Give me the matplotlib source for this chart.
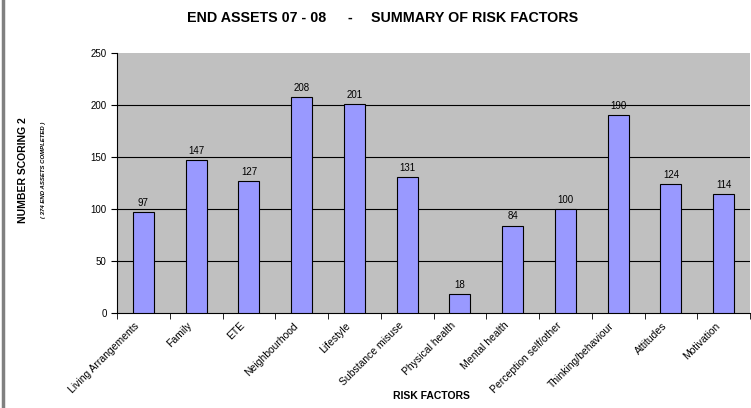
import matplotlib
matplotlib.use("Agg")
import matplotlib.pyplot as plt
import matplotlib.transforms as mtransforms
import numpy as np
from matplotlib.lines import Line2D

plt.rcParams['font.family'] = ['Liberation Sans', 'DejaVu Sans']

categories = ['Living Arrangements', 'Family', 'ETE', 'Neighbourhood', 'Lifestyle',
              'Substance misuse', 'Physical health', 'Mental health',
              'Perception self/other', 'Thinking/behaviour', 'Attitudes', 'Motivation']
values = [97, 147, 127, 208, 201, 131, 18, 84, 100, 190, 124, 114]
gridlines = [50, 100, 150, 200]

W, H = 751, 408
fig = plt.figure(figsize=(W / 100, H / 100), dpi=100)
ax = fig.add_axes([117/W, 95/H, 633/W, 260/H])
ax.set_facecolor('#C0C0C0')

x = np.arange(len(categories))
ax.bar(x, values, width=0.4, color='#9999FF', edgecolor='black', linewidth=0.8, zorder=3)
for xi, v in zip(x, values):
    ax.text(xi, v + 4, str(v), ha='center', va='bottom', fontsize=7, zorder=4)

ax.set_xlim(-0.5, len(categories) - 0.5)
ax.set_ylim(0, 250)
ax.set_yticks(range(0, 251, 50))
ax.hlines(gridlines, -0.5, len(categories) - 0.5, color='black', linewidth=0.8, zorder=1)

ax.set_xticks(x)
ax.set_xticklabels(categories, rotation=45, ha='right', rotation_mode='anchor', fontsize=7.5)
ax.tick_params(axis='x', length=0, pad=4)
# nudge labels left/down like the Excel original
shift = mtransforms.ScaledTranslation(-9/100, -2/100, fig.dpi_scale_trans)
for lbl in ax.get_xticklabels():
    lbl.set_transform(lbl.get_transform() + shift)
ax.set_xticks(np.arange(-0.5, len(categories), 1), minor=True)
ax.tick_params(axis='x', which='minor', length=4, direction='out')
ax.tick_params(axis='y', labelsize=7, length=4, direction='out')

for s in ['top', 'right']:
    ax.spines[s].set_visible(False)
ax.spines['left'].set_linewidth(0.8)
ax.spines['bottom'].set_linewidth(0.8)

ty = 1 - 18/H
fig.text(187/W, ty, 'END ASSETS 07 - 08', ha='left', va='center', fontsize=10.3, fontweight='bold')
fig.text(350/W, ty, '-', ha='center', va='center', fontsize=10.3, fontweight='bold')
fig.text(371/W, ty, 'SUMMARY OF RISK FACTORS', ha='left', va='center', fontsize=10.3, fontweight='bold')
fig.text(431/W, 1 - 396/H, 'RISK FACTORS', ha='center', va='center',
         fontsize=7.5, fontweight='bold')
fig.text(23/W, 1 - 170/H, 'NUMBER SCORING 2', ha='center', va='center',
         rotation=90, fontsize=7.5, fontweight='bold')
fig.text(43/W, 1 - 170/H, '( 374 END ASSETS COMPLETED )', ha='center', va='center',
         rotation=90, fontsize=4.3, fontweight='bold', style='italic')

fig.add_artist(Line2D([3/W, 3/W], [0, 1], color='#808080', linewidth=2.5,
                      transform=fig.transFigure))

fig.savefig('out.png', dpi=100)
